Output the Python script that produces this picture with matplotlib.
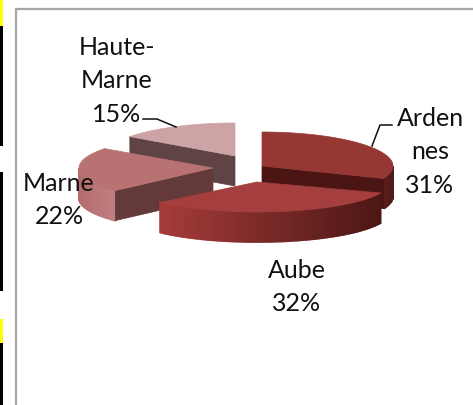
import numpy as np
import matplotlib
matplotlib.use("Agg")
import matplotlib.pyplot as plt
from matplotlib.colors import to_rgb
from matplotlib.patches import Polygon, Rectangle

plt.rcParams['font.family'] = ['Lato', 'DejaVu Sans']

regions = ['Ardennes', 'Aube', 'Marne', 'Haute-Marne']
shares = [31, 32, 22, 15]
label_lines = ['Arden\nnes\n31%', 'Aube\n32%', 'Marne\n22%', 'Haute-\nMarne\n15%']

# pixel layout of each exploded slice: centre x, centre y, radius x, radius y
slice_geom = {
    'Ardennes': (262, 167, 131, 34),
    'Aube': (257, 183, 133, 30),
    'Marne': (213, 169, 134, 33),
    'Haute-Marne': (235, 157, 130, 33),
}
top_colors = {'Ardennes': '#953733', 'Aube': '#a53e3e', 'Marne': '#b97272', 'Haute-Marne': '#cda3a5'}
cut_colors = {'Ardennes': '#4a1512', 'Marne': '#63393a', 'Haute-Marne': '#5f4345'}
wall_left = {'Ardennes': '#5a1f1b', 'Aube': '#a53c3a', 'Marne': '#b46c6e'}
wall_right = {'Ardennes': '#4e1a17', 'Aube': '#4c1714', 'Marne': '#c08082'}
depth = 30


def rim(name, angles):
    cx, cy, rx, ry = slice_geom[name]
    rad = np.radians(angles)
    return cx + rx * np.sin(rad), cy - ry * np.cos(rad)


fig = plt.figure(figsize=(4.73, 4.06), dpi=100)
ax = fig.add_axes([0, 0, 1, 1])
ax.set_xlim(0, 473)
ax.set_ylim(406, 0)
ax.axis('off')

# strips of the page left of the chart frame
for y0, y1, col in [(0, 27, '#ffff00'), (27, 147, 'black'), (173, 292, 'black'),
                    (320, 344, '#ffff00'), (344, 406, 'black')]:
    ax.add_patch(Rectangle((0, y0), 3, y1 - y0, color=col, lw=0))

# chart frame
ax.plot([15.5, 15.5, 473], [406, 9.5, 9.5], color='#a6a6a6', lw=1.6)

# slice start/end angles, clockwise from twelve o'clock
edges = np.cumsum([0] + shares) * 3.6
spans = {r: (edges[i], edges[i + 1]) for i, r in enumerate(regions)}

# back to front
for name in ['Haute-Marne', 'Ardennes', 'Marne', 'Aube']:
    a0, a1 = spans[name]
    cx, cy, rx, ry = slice_geom[name]

    # outer wall, only the front half of the ellipse shows
    w0, w1 = max(a0, 90), min(a1, 270)
    if w1 > w0:
        steps = np.linspace(w0, w1, 80)
        xs, ys = rim(name, steps)
        c_left = np.array(to_rgb(wall_left[name]))
        c_right = np.array(to_rgb(wall_right[name]))
        for i in range(len(steps) - 1):
            f = (xs[i] - xs.min()) / max(xs.max() - xs.min(), 1)
            pts = [(xs[i], ys[i]), (xs[i + 1], ys[i + 1]),
                   (xs[i + 1], ys[i + 1] + depth), (xs[i], ys[i] + depth)]
            col = c_left + (c_right - c_left) * f
            ax.add_patch(Polygon(pts, closed=True, facecolor=col, edgecolor=col, lw=1.2))

    # cut face that looks toward the viewer
    if name in cut_colors:
        cut_angle = a0 if name != 'Ardennes' else a1
        tx, ty = rim(name, np.array([cut_angle]))
        pts = [(cx, cy), (tx[0], ty[0]), (tx[0], ty[0] + depth), (cx, cy + depth)]
        ax.add_patch(Polygon(pts, closed=True, facecolor=cut_colors[name], edgecolor=cut_colors[name], lw=0.5))

    # top surface
    xs, ys = rim(name, np.linspace(a0, a1, 120))
    pts = [(cx, cy)] + list(zip(xs, ys))
    ax.add_patch(Polygon(pts, closed=True, facecolor=top_colors[name], edgecolor=top_colors[name], lw=0.5))

# leader lines
ax.plot([143, 157, 176], [120, 120, 128], color='#111111', lw=1.1)
ax.plot([392, 380, 372], [126, 126, 147], color='#111111', lw=1.1)

# labels
label_pos = [(430, 152), (297, 287), (59, 200), (117, 81)]
for txt, (x, y) in zip(label_lines, label_pos):
    ax.text(x, y, txt, ha='center', va='center', fontsize=18, color='#111111', linespacing=1.55)

fig.savefig('out.png', dpi=100)
